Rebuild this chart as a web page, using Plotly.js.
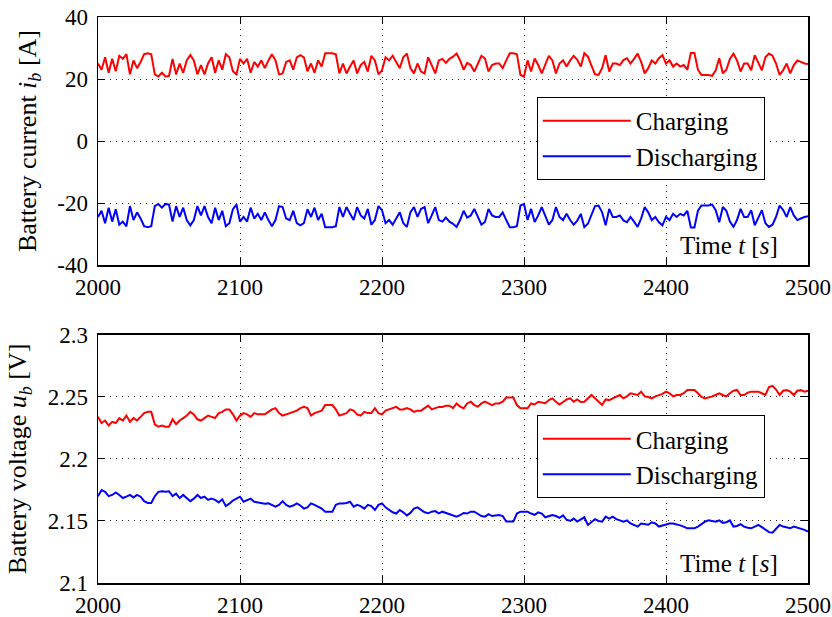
<!DOCTYPE html>
<html><head><meta charset="utf-8">
<script src="https://cdn.plot.ly/plotly-3.0.1.min.js"></script>
<style>html,body{margin:0;padding:0;background:#fff}#chart{width:832px;height:617px}</style>
</head><body><div id="chart"></div>
<script>
// sample grid: 2000 s to 2500 s every 2.5 s
var tStart = 2000, tStep = 2.5;
var currentCharging = [25,23,27,22,26.5,22.5,27.5,26.5,28,21.5,
26,23.5,25.5,28,28.3,28,21.5,20.8,22,20.8,
21,26.5,21.5,25,22,26,27.7,26,21.5,24.5,
21.5,25,27,22,26,23,28,27,22.5,21.5,
26.5,25,26.5,22,25.5,24,26,23.5,26,28,
26,21.5,21.8,25.5,26,23,27,27.7,27,22.5,
25,22,26,24,28.3,28.3,28.3,28,21.8,25,
21.8,24,26,21.8,24.5,25.5,22.4,27.5,26,21.5,
22.8,27,26,27.5,25.5,23.5,27,28.2,23.5,21.8,
25,22.4,21.8,27,24.5,21.8,26,26.5,25.2,26.5,
27.2,28.2,26,23,25.2,24.5,22.4,25,27.5,26.6,
22.4,24.5,25,25,23.5,26,28.3,28.3,28,21.3,
20.8,26,22.4,26.6,24.5,21.8,24.5,27.5,26,21.8,
25,26,24,26,27.5,26.2,24,28.3,27.2,24.5,
21.5,21.3,23.5,27.7,22.4,25,25,24.5,26.1,26.7,
25,26.5,28.2,25.5,21.8,23.5,26,25,26.7,27.7,
25,26,24,25,24,24.5,23,28.4,28.4,23,
21.3,21.3,21.3,21,22.8,26.7,21.8,23,26.5,28.2,
26,22.4,25,25,22.8,27.7,25.5,22.8,27,28.2,
27.5,25,21.3,22.8,25,21.8,24.5,26,25.5,25,24.8];
var currentDischarging = [-24.5,-22.5,-26.5,-21.5,-26,-22,-27,-26,-27.5,-21,
-25.5,-23,-25,-27.5,-27.8,-27.5,-21,-20.3,-21.5,-20.3,
-20.5,-26,-21,-24.5,-21.5,-25.5,-27.2,-25.5,-21,-24,
-21,-24.5,-26.5,-21.5,-25.5,-22.5,-27.5,-26.5,-22,-20.5,
-26,-24.5,-26,-21.5,-25,-23.5,-25.5,-23,-25.5,-27.5,
-25.5,-21,-21.3,-25,-25.5,-22.5,-26.5,-27.2,-26.5,-22,
-24.5,-21.5,-25.5,-23.5,-27.8,-27.8,-27.8,-27.5,-21.3,-24.5,
-21.3,-23.5,-25.5,-21.3,-24,-25,-21.9,-27,-25.5,-21,
-22.3,-26.5,-25.5,-27,-25,-23,-26.5,-27.7,-23,-21.3,
-24.5,-21.9,-21.3,-26.5,-24,-21.3,-25.5,-26,-24.7,-26,
-26.7,-27.7,-25.5,-22.5,-24.7,-24,-21.9,-24.5,-27,-26.1,
-21.9,-24,-24.5,-24.5,-23,-25.5,-27.8,-27.8,-27.5,-20.8,
-20.3,-25.5,-21.9,-26.1,-24,-21.3,-24,-27,-25.5,-21.3,
-24.5,-25.5,-23.5,-25.5,-27,-25.7,-23.5,-27.8,-26.7,-24,
-21,-20.8,-23,-27.2,-21.9,-24.5,-24.5,-24,-25.6,-26.2,
-24.5,-26,-27.7,-25,-21.3,-23,-25.5,-24.5,-26.2,-27.2,
-24.5,-25.5,-23.5,-24.5,-23.5,-24,-22.5,-27.9,-27.9,-22.5,
-20.8,-20.8,-20.8,-20.5,-22.3,-26.2,-21.3,-22.5,-26,-27.7,
-25.5,-21.9,-24.5,-24.5,-22.3,-27.2,-25,-22.3,-26.5,-27.7,
-27,-24.5,-20.8,-22.3,-24.5,-21.3,-24,-25.5,-25,-24.5,-24.3];
var voltageCharging = [2.234,2.229,2.231,2.227,2.230,2.229,2.233,2.231,2.235,2.230,
2.233,2.231,2.234,2.237,2.238,2.238,2.228,2.226,2.227,2.226,
2.226,2.232,2.228,2.231,2.233,2.235,2.238,2.236,2.232,2.231,
2.233,2.235,2.234,2.233,2.237,2.238,2.240,2.240,2.236,2.231,
2.235,2.237,2.236,2.234,2.237,2.236,2.236,2.236,2.238,2.240,
2.241,2.237,2.235,2.236,2.237,2.238,2.239,2.241,2.242,2.241,
2.235,2.237,2.238,2.239,2.2435,2.2435,2.2435,2.240,2.235,2.236,
2.237,2.240,2.239,2.236,2.235,2.238,2.237,2.237,2.241,2.237,
2.236,2.239,2.240,2.241,2.242,2.240,2.240,2.241,2.240,2.238,
2.239,2.239,2.241,2.243,2.240,2.241,2.242,2.242,2.243,2.243,
2.241,2.2448,2.2422,2.2409,2.2448,2.2462,2.2435,2.2422,2.2448,2.2462,
2.2448,2.2435,2.2448,2.2448,2.2462,2.2495,2.2495,2.2495,2.2435,2.2409,
2.2409,2.2409,2.2448,2.2440,2.2462,2.2455,2.2450,2.2475,2.2489,2.2462,
2.2440,2.2460,2.2480,2.2489,2.2462,2.2480,2.2460,2.2462,2.2489,2.2516,
2.2489,2.2462,2.2435,2.2480,2.2475,2.2489,2.2500,2.2516,2.2489,2.2505,
2.2530,2.2525,2.2516,2.2543,2.2505,2.2500,2.2489,2.2505,2.2516,2.2525,
2.2543,2.2530,2.2505,2.2516,2.2516,2.2530,2.2557,2.2557,2.2557,2.2530,
2.2500,2.2489,2.2495,2.2505,2.2516,2.2530,2.2516,2.2505,2.2530,2.2550,
2.2557,2.2516,2.2516,2.2535,2.2543,2.2543,2.2543,2.2530,2.2516,2.2580,
2.2590,2.2560,2.2516,2.2550,2.2555,2.2543,2.2516,2.2550,2.2555,2.2543,2.2550];
var voltageDischarging = [2.170,2.1750,2.1735,2.1700,2.1710,2.1730,2.1710,2.1685,2.1696,2.1710,
2.1690,2.1710,2.1696,2.1660,2.1645,2.1645,2.1700,2.1735,2.1740,2.1735,
2.1740,2.1700,2.1720,2.1685,2.1710,2.1685,2.1660,2.1680,2.1710,2.1685,
2.1696,2.1670,2.1680,2.1670,2.1650,2.1675,2.1620,2.1640,2.1665,2.1680,
2.1696,2.1655,2.1665,2.1680,2.1655,2.1650,2.1645,2.1640,2.1642,2.1630,
2.1616,2.1630,2.1660,2.1630,2.1616,2.1625,2.1642,2.1625,2.1600,2.1610,
2.1642,2.1630,2.1616,2.1600,2.1575,2.1575,2.1575,2.1630,2.1642,2.1642,
2.1645,2.1655,2.1616,2.1630,2.1620,2.1600,2.1630,2.1620,2.1589,2.1630,
2.1642,2.1610,2.1589,2.1570,2.1560,2.1589,2.1570,2.1545,2.1565,2.1600,
2.1610,2.1589,2.1570,2.1562,2.1575,2.1580,2.1562,2.1575,2.1565,2.1560,
2.1550,2.1535,2.1548,2.1565,2.1560,2.1575,2.1575,2.1560,2.1540,2.1535,
2.1555,2.1540,2.1545,2.1548,2.1540,2.1495,2.1495,2.1495,2.1560,2.1575,
2.1575,2.1575,2.1560,2.1550,2.1570,2.1560,2.1530,2.1540,2.1548,2.1540,
2.1525,2.1545,2.1510,2.1500,2.1520,2.1495,2.1510,2.1530,2.1468,2.1490,
2.1515,2.1500,2.1495,2.1535,2.1520,2.1535,2.1515,2.1505,2.1495,2.1505,
2.1480,2.1468,2.1455,2.1480,2.1475,2.1470,2.1490,2.1480,2.1455,2.1465,
2.1475,2.1480,2.1480,2.1475,2.1465,2.1455,2.1441,2.1441,2.1441,2.1455,
2.1475,2.1495,2.1505,2.1500,2.1495,2.1505,2.1485,2.1490,2.1505,2.1455,
2.1460,2.1475,2.1455,2.1445,2.1441,2.1455,2.1468,2.1450,2.1430,2.1410,
2.1405,2.1441,2.1468,2.1455,2.1450,2.1441,2.1455,2.1445,2.1441,2.1428,2.1414];
var xTicks = [2000,2100,2200,2300,2400,2500];
var iTickVals = [-40,-20,0,20,40];
var iTickText = ['-40','-20','0','20','40'];
var uTickVals = [2.1,2.15,2.2,2.25,2.3];
var uTickText = ['2.1','2.15','2.2','2.25','2.3'];
var seriesNames = ['Charging','Discharging'];

var time = currentCharging.map(function(_, k){ return tStart + k*tStep; });

var FONT = 'Liberation Serif';
var RED = '#ff0000', BLUE = '#0000ff';

var traces = [
  {x: time, y: currentCharging, name: seriesNames[0], xaxis:'x', yaxis:'y', legend:'legend', line:{color:RED,width:2}, mode:'lines'},
  {x: time, y: currentDischarging, name: seriesNames[1], xaxis:'x', yaxis:'y', legend:'legend', line:{color:BLUE,width:2}, mode:'lines'},
  {x: time, y: voltageCharging, name: seriesNames[0], xaxis:'x2', yaxis:'y2', legend:'legend2', line:{color:RED,width:2}, mode:'lines'},
  {x: time, y: voltageDischarging, name: seriesNames[1], xaxis:'x2', yaxis:'y2', legend:'legend2', line:{color:BLUE,width:2}, mode:'lines'}
];

var GRID = {showgrid:true, gridcolor:'#222', griddash:'1px,5px', gridwidth:1, zeroline:false};
var TICKFONT = {family:FONT, size:23, color:'#000', weight:'normal', style:'normal'};

function xax(anchor){
  return Object.assign({anchor: anchor, domain:[0,1], range:[2000,2500], tickvals: xTicks,
    ticktext: xTicks.map(String),
    showline:true, mirror:'ticks', linecolor:'#000', linewidth:1.5,
    ticks:'inside', ticklen:7, tickcolor:'#000', ticklabelstandoff:1,
    tickfont:TICKFONT}, GRID);
}
function yax(anchor, dom, rng, tv, tt, title){
  return Object.assign({anchor: anchor, domain: dom, range: rng, tickvals: tv, ticktext: tt,
    showline:true, mirror:'ticks', linecolor:'#000', linewidth:1.5,
    ticks:'inside', ticklen:7, tickcolor:'#000', ticklabelstandoff:4,
    tickfont:TICKFONT,
    title:{text:title, font:{family:FONT,size:26,color:'#000'}, standoff:13}}, GRID);
}

var legendBase = {xanchor:'left', yanchor:'top', bgcolor:'#fff', bordercolor:'#000', borderwidth:1,
  font:{family:FONT,size:25,color:'#000'}, itemwidth:88, tracegroupgap:0};

var layout = {
  width:832, height:617,
  font:{family:FONT, size:22, color:'#000'},
  margin:{l:98, r:24, t:17, b:34},
  paper_bgcolor:'#fff', plot_bgcolor:'#fff',
  showlegend:true,
  xaxis: xax('y'),
  yaxis: yax('x', [0.5618,1], [-40,40], iTickVals, iTickText, 'Battery current <i>i</i><sub><i>b</i></sub> [A]'),
  xaxis2: xax('y2'),
  yaxis2: yax('x2', [0,0.4382], [2.1,2.3], uTickVals, uTickText, 'Battery voltage <i>u</i><sub><i>b</i></sub> [V]'),
  legend: Object.assign({}, legendBase, {x:0.618, y:0.8587}),
  legend2: Object.assign({}, legendBase, {x:0.618, y:0.2968}),
  annotations:[
    {xref:'paper', yref:'paper', x:0.9606, y:0.596, xanchor:'right', yanchor:'middle', showarrow:false,
     text:'Time <i>t</i> [<i>s</i>]', font:{family:FONT,size:25,color:'#000'}},
    {xref:'paper', yref:'paper', x:0.9606, y:0.035, xanchor:'right', yanchor:'middle', showarrow:false,
     text:'Time <i>t</i> [<i>s</i>]', font:{family:FONT,size:25,color:'#000'}}
  ]
};

Plotly.newPlot('chart', traces, layout, {displayModeBar:false, staticPlot:true});
</script>
</body></html>
